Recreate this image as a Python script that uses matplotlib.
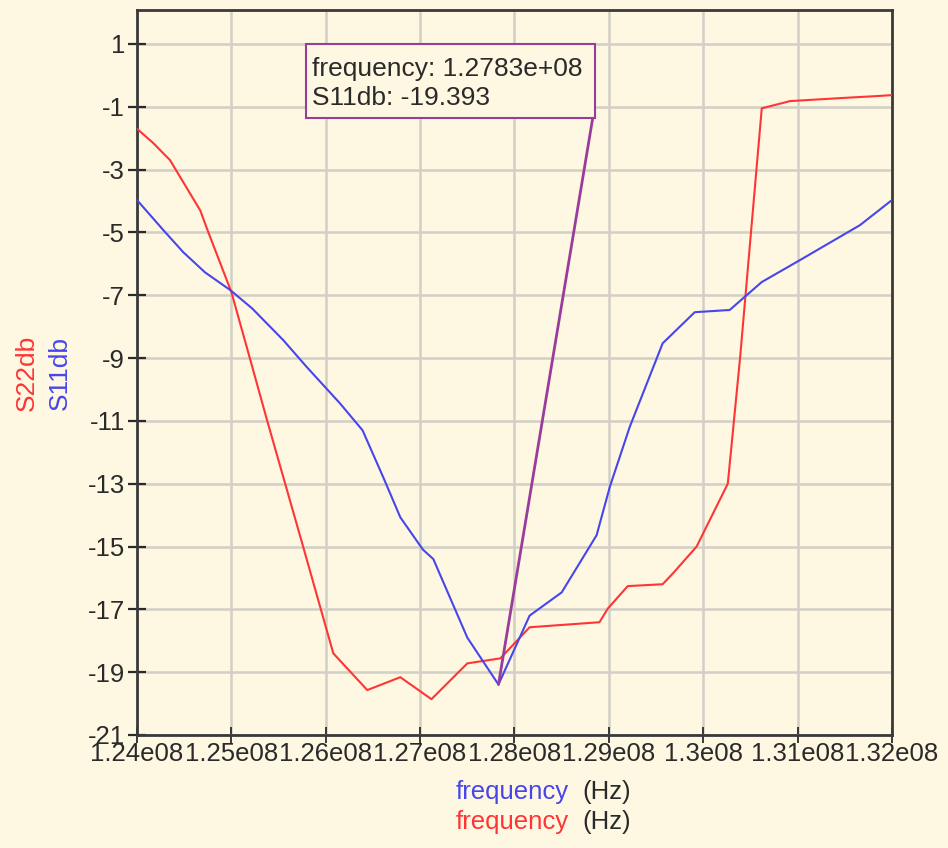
import numpy as np
import matplotlib
matplotlib.use("Agg")
import matplotlib.pyplot as plt
from matplotlib.patches import Rectangle

plt.rcParams['font.family'] = ['Liberation Sans', 'DejaVu Sans']

# S22 (red) sweep, Hz / dB
s22_freq = [124.00e6, 124.17e6, 124.35e6, 124.67e6, 124.75e6, 125.00e6, 125.20e6,
            125.38e6, 125.57e6, 125.76e6, 126.08e6, 126.44e6, 126.79e6, 127.12e6,
            127.50e6, 127.85e6, 128.16e6, 128.90e6, 128.99e6, 129.20e6, 129.57e6,
            129.68e6, 129.93e6, 130.26e6, 130.39e6, 130.62e6, 130.92e6, 131.48e6,
            131.84e6, 132.00e6]
s22_db = [-1.70, -2.15, -2.70, -4.30, -4.95, -6.90, -9.05,
          -11.0, -13.0, -15.0, -18.4, -19.57, -19.16, -19.86,
          -18.72, -18.56, -17.57, -17.41, -16.97, -16.26, -16.20,
          -15.85, -15.0, -13.0, -9.0, -1.05, -0.82, -0.72,
          -0.66, -0.63]

# S11 (blue) sweep, Hz / dB
s11_freq = [124.00e6, 124.28e6, 124.49e6, 124.72e6, 124.99e6, 125.22e6, 125.55e6,
            125.80e6, 126.15e6, 126.39e6, 126.61e6, 126.79e6, 127.03e6, 127.14e6,
            127.50e6, 127.83e6, 128.16e6, 128.50e6, 128.87e6, 129.01e6, 129.22e6,
            129.57e6, 129.91e6, 130.28e6, 130.44e6, 130.62e6, 131.02e6, 131.66e6,
            132.00e6]
s11_db = [-3.97, -4.93, -5.63, -6.27, -6.84, -7.42, -8.43,
          -9.29, -10.44, -11.3, -12.8, -14.07, -15.1, -15.4,
          -17.9, -19.393, -17.2, -16.46, -14.64, -13.1, -11.2,
          -8.53, -7.54, -7.47, -7.05, -6.58, -5.89, -4.77,
          -3.97]

# marker placed on S11 minimum
marker_idx = 15

xticks = [124e6, 125e6, 126e6, 127e6, 128e6, 129e6, 130e6, 131e6, 132e6]
xtick_labels = ['1.24e08', '1.25e08', '1.26e08', '1.27e08', '1.28e08',
                '1.29e08', '1.3e08', '1.31e08', '1.32e08']
yticks = [1, -1, -3, -5, -7, -9, -11, -13, -15, -17, -19, -21]

bg = '#fef8e2'
red = '#ff3535'
blue = '#4646ec'
purple = '#9a3c9a'
dark = '#2a2a2a'
fs = 18.5

fig = plt.figure(figsize=(9.48, 8.48), dpi=100, facecolor=bg)
ax = fig.add_axes([137/948, 1-735/848, (892-137)/948, (735-10)/848])
ax.set_facecolor(bg)

ax.plot(s22_freq, s22_db, color=red, lw=1.5, zorder=3)
ax.plot(s11_freq, s11_db, color=blue, lw=1.5, zorder=3)

ax.set_xlim(124e6, 132e6)
ax.set_ylim(-21, 2.08)
ax.set_xticks(xticks)
ax.set_xticklabels(xtick_labels)
ax.set_yticks(yticks)
ax.set_yticklabels([str(v) for v in yticks])
ax.grid(True, color='#d2d0c6', lw=1.8, zorder=0)
ax.tick_params(axis='y', direction='inout', length=13, width=1.6, color=dark,
               labelsize=fs, labelcolor=dark, pad=2)
ax.tick_params(axis='x', direction='inout', length=12, width=1.3, color=dark,
               labelsize=fs, labelcolor=dark, pad=-1)
for s in ax.spines.values():
    s.set_color('#3a3a3a')
    s.set_linewidth(2)

# marker readout box with leader line
mf = s11_freq[marker_idx]
mv = s11_db[marker_idx]
bx0, bx1 = (306-137)/755, (595-137)/755
by0, by1 = (735-118)/725, (735-44)/725
ax.add_patch(Rectangle((bx0, by0), bx1-bx0, by1-by0, transform=ax.transAxes,
                       facecolor=bg, edgecolor=purple, lw=1.5, zorder=5))
ax.text(bx0+0.008, 0.918, f'frequency: {mf:.4e}', transform=ax.transAxes,
        fontsize=fs+0.5, color=dark, va='center', ha='left', zorder=6)
ax.text(bx0+0.008, 0.878, f'S11db: {mv:.3f}', transform=ax.transAxes,
        fontsize=fs+0.5, color=dark, va='center', ha='left', zorder=6)
ax.annotate('', xy=(mf, mv), xycoords='data', xytext=(bx1-0.003, by0),
            textcoords='axes fraction',
            arrowprops=dict(arrowstyle='-', color=purple, lw=2, shrinkA=0, shrinkB=0),
            zorder=4)

# stacked y labels
fig.text(27/948, 1-373/848, 'S22db', color=red, fontsize=fs+0.5, rotation=90,
         ha='center', va='center')
fig.text(60/948, 1-373/848, 'S11db', color=blue, fontsize=fs+0.5, rotation=90,
         ha='center', va='center')

# stacked x labels
for yy, c in [(792, blue), (822, red)]:
    fig.text(569/948, 1-yy/848, 'frequency', color=c, fontsize=fs,
             ha='right', va='center')
    fig.text(582/948, 1-yy/848, '(Hz)', color=dark, fontsize=fs,
             ha='left', va='center')

fig.savefig('out.png', dpi=100, facecolor=bg)
